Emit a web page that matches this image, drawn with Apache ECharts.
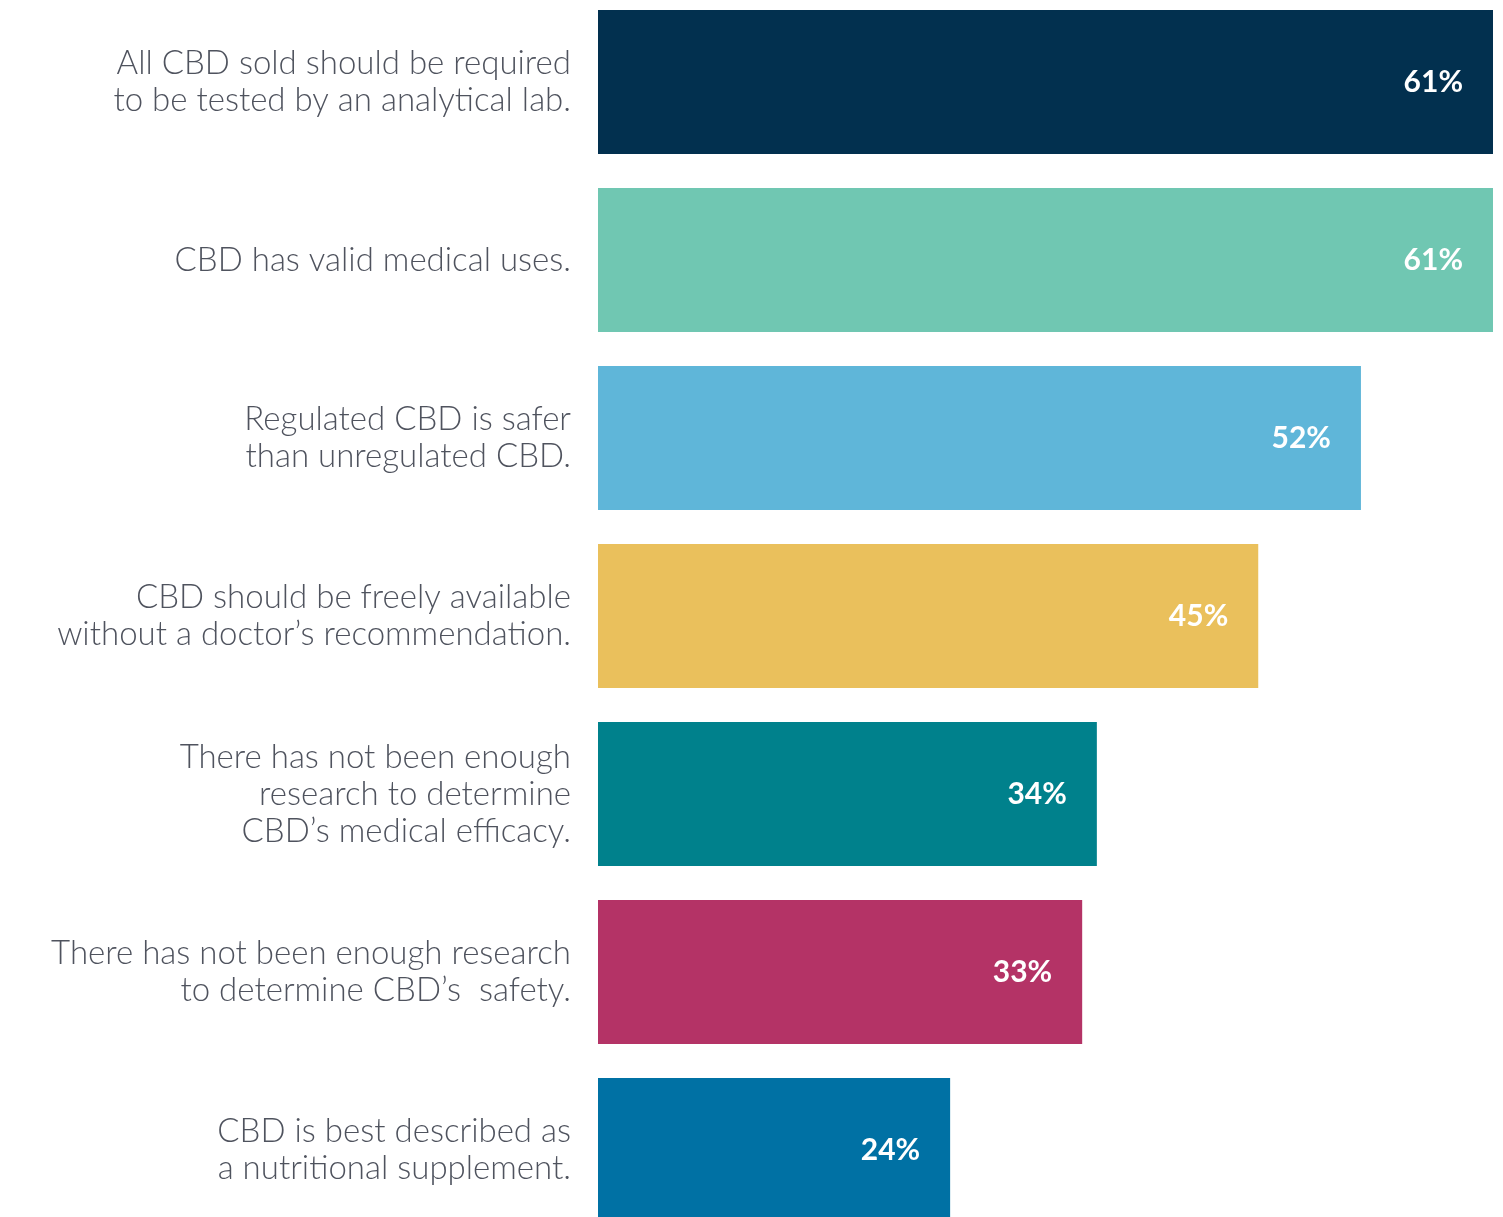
<!DOCTYPE html>
<html>
<head>
<meta charset="utf-8">
<script src="https://cdn.jsdelivr.net/npm/echarts@6/dist/echarts.min.js"></script>
<style>
  html, body { margin: 0; padding: 0; background: #ffffff; overflow: hidden; }
  /* the last bar runs off the bottom edge of the page */
  #chart { width: 1503px; height: 1246px; margin-top: -7px; }
</style>
</head>
<body>
<div id="chart"></div>
<script>
// Survey statements, top to bottom
const statements = [
  'All CBD sold should be required\nto be tested by an analytical lab.',
  'CBD has valid medical uses.',
  'Regulated CBD is safer\nthan unregulated CBD.',
  'CBD should be freely available\nwithout a doctor\u2019s recommendation.',
  'There has not been enough\nresearch to determine\nCBD\u2019s medical efficacy.',
  'There has not been enough research\nto determine CBD\u2019s  safety.',
  'CBD is best described as\na nutritional supplement.'
];
// Share of respondents agreeing (%)
const agreePct = [61, 61, 52, 45, 34, 33, 24];
const barColors = ['#02304f', '#70c7b2', '#5fb6d9', '#eac05c', '#00818c', '#b43366', '#0071a4'];

const chart = echarts.init(document.getElementById('chart'));
chart.setOption({
  animation: false,
  grid: { left: 598, right: 10, top: 0, bottom: 0, containLabel: false },
  xAxis: {
    type: 'value', min: 0, max: 61,
    show: false
  },
  yAxis: {
    type: 'category',
    inverse: true,
    data: statements,
    axisLine: { show: false },
    axisTick: { show: false },
    splitLine: { show: false },
    axisLabel: {
      margin: 27,
      align: 'right',
      color: '#4f535e',
      fontFamily: 'Lato',
      fontWeight: 300,
      fontSize: 33,
      lineHeight: 37,
      padding: [5, 0, 0, 0]
    }
  },
  series: [{
    type: 'bar',
    barWidth: 144,
    data: agreePct.map((v, i) => ({ value: v, itemStyle: { color: barColors[i] } })),
    label: {
      show: true,
      position: 'insideRight',
      distance: 30,
      formatter: '{c}%',
      color: '#ffffff',
      fontFamily: 'Lato',
      fontWeight: 'bold',
      fontSize: 30
    }
  }]
});
</script>
</body>
</html>
